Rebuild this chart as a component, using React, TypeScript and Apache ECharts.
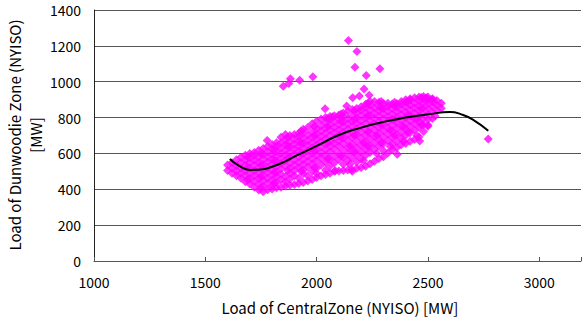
import React, { useEffect, useRef } from "react";
import * as echarts from "echarts";

// X-axis tick labels and Y-axis tick labels
const xTicks = [1000, 1500, 2000, 2500, 3000];
const yTicks = [0, 200, 400, 600, 800, 1000, 1200, 1400];

// Main cloud of observations: [Central Zone load, list of Dunwoodie loads]
const cloudColumns: [number, number[]][] = [
  [1600, [505, 535]],
  [1620, [490, 518, 548]],
  [1640, [475, 503, 532, 565]],
  [1660, [462, 490, 518, 548, 578]],
  [1680, [442, 476, 505, 534, 562, 590]],
  [1700, [430, 460, 490, 518, 548, 576, 600]],
  [1720, [412, 445, 476, 505, 535, 562, 590, 605]],
  [1740, [396, 428, 460, 492, 520, 550, 578, 618]],
  [1760, [386, 415, 447, 478, 508, 538, 566, 596, 628]],
  [1780, [398, 432, 462, 494, 522, 552, 582, 610, 640]],
  [1800, [402, 420, 450, 480, 510, 540, 568, 596, 625, 650]],
  [1820, [408, 438, 470, 498, 528, 556, 585, 612, 640, 660]],
  [1840, [412, 455, 485, 515, 545, 572, 600, 630, 660, 690]],
  [1860, [418, 440, 472, 530, 560, 590, 618, 648, 676, 705]],
  [1880, [422, 458, 490, 518, 546, 578, 606, 636, 664, 700]],
  [1900, [426, 475, 505, 535, 565, 595, 625, 652, 680, 705]],
  [1920, [432, 462, 520, 550, 582, 612, 640, 668, 695, 712]],
  [1940, [438, 488, 508, 538, 568, 600, 628, 656, 686, 718, 735]],
  [1960, [446, 475, 525, 555, 585, 615, 645, 672, 702, 745]],
  [1980, [455, 500, 540, 572, 602, 632, 660, 690, 720, 765]],
  [2000, [466, 488, 518, 558, 590, 620, 648, 678, 708, 738, 780]],
  [2020, [476, 535, 575, 605, 638, 665, 695, 725, 755, 792]],
  [2040, [482, 508, 552, 590, 622, 652, 682, 712, 742, 772, 800]],
  [2060, [490, 530, 568, 610, 640, 668, 700, 730, 760, 790, 806]],
  [2080, [500, 548, 585, 625, 655, 685, 715, 745, 775, 810]],
  [2100, [502, 565, 600, 640, 670, 702, 732, 762, 792, 815]],
  [2120, [505, 540, 580, 618, 655, 688, 718, 748, 778, 808, 825]],
  [2140, [508, 560, 598, 635, 672, 705, 735, 765, 795, 835]],
  [2160, [500, 575, 612, 650, 690, 720, 750, 780, 810, 845]],
  [2180, [518, 552, 592, 630, 668, 705, 738, 768, 798, 828, 850]],
  [2200, [522, 570, 608, 645, 685, 720, 752, 782, 812, 842, 860]],
  [2220, [528, 590, 625, 662, 700, 735, 768, 798, 828, 858, 875]],
  [2240, [542, 605, 642, 680, 715, 750, 782, 812, 842, 870, 890]],
  [2260, [556, 622, 660, 695, 730, 765, 795, 825, 855, 890]],
  [2280, [572, 640, 678, 712, 745, 778, 808, 838, 865, 885]],
  [2300, [582, 615, 655, 692, 728, 760, 792, 822, 850, 878]],
  [2320, [602, 672, 708, 742, 775, 805, 835, 862, 880]],
  [2340, [620, 652, 690, 725, 758, 790, 820, 850, 876]],
  [2360, [632, 668, 705, 740, 772, 802, 832, 860, 878]],
  [2380, [648, 685, 720, 755, 788, 818, 848, 875, 890]],
  [2400, [656, 700, 735, 770, 800, 830, 860, 885, 900]],
  [2420, [668, 715, 750, 782, 812, 842, 870, 898, 905]],
  [2440, [678, 730, 765, 796, 826, 855, 882, 910]],
  [2460, [692, 745, 778, 808, 838, 866, 892, 915]],
  [2480, [722, 760, 792, 822, 852, 880, 905, 918]],
  [2500, [752, 790, 820, 850, 878, 900, 915]],
  [2520, [795, 830, 862, 890, 905]],
  [2540, [842, 870, 895]],
  [2560, [852, 880]],
];

// Extra observations between the columns to densify the cloud
const cloudColumnsOffset: [number, number[]][] = [
  [1690, [455, 520, 580]],
  [1750, [410, 470, 535, 600]],
  [1810, [435, 495, 560, 620]],
  [1870, [505, 575, 640, 690]],
  [1930, [500, 600, 660, 725]],
  [1990, [520, 615, 700, 750]],
  [2050, [570, 660, 750, 795]],
  [2110, [585, 690, 780, 820]],
  [2150, [540, 640]],
  [2170, [610, 700, 790, 840]],
  [2210, [560, 660]],
  [2230, [640, 720, 810, 880]],
  [2270, [600, 700]],
  [2290, [660, 760, 850, 890]],
  [2330, [640, 730]],
  [2350, [700, 790, 865, 885]],
  [2390, [668, 750]],
  [2410, [720, 815, 890]],
  [2450, [700, 790]],
  [2470, [760, 850, 912]],
];

// Isolated observations outside the main cloud
const outlierPoints: [number, number][] = [
  [2143, 1230], [2181, 1169], [2172, 1080], [2284, 1073], [2223, 1034],
  [2213, 960], [1983, 1027], [1924, 1008], [1882, 1016], [1875, 990],
  [1850, 975], [2162, 910], [2192, 920], [2236, 924], [2135, 864],
  [2038, 849], [2071, 805], [1778, 672], [2771, 680], [2500, 759],
  [2463, 670], [2362, 595], [2532, 809], [2492, 910], [2522, 901],
  [2158, 510], [2084, 504],
];

// Trend curve
const trendX = [1610, 1650, 1700, 1750, 1800, 1850, 1900, 1950, 2000, 2100, 2200, 2300, 2400, 2500, 2600, 2650, 2700, 2771];
const trendY = [569, 532, 508, 510, 526, 550, 582, 611, 642, 703, 744, 776, 800, 818, 831, 818, 790, 726];

const FONT = '"Noto Sans CJK JP", "Noto Sans", sans-serif';

export default function App() {
  const ref = useRef<HTMLDivElement>(null);
  useEffect(() => {
    if (!ref.current) return;
    const chart = echarts.init(ref.current, null, { renderer: "svg" });
    const scatterData: [number, number][] = [];
    cloudColumns.forEach(([x, ys]) => ys.forEach((y) => scatterData.push([x, y])));
    cloudColumnsOffset.forEach(([x, ys]) => ys.forEach((y) => scatterData.push([x, y])));
    outlierPoints.forEach((p) => scatterData.push(p));
    const trendData = trendX.map((x, i) => [x, trendY[i]]);
    const xMax = 3000 + (42 / 448) * 2000;
    chart.setOption({
      animation: false,
      grid: { left: 94, top: 10, right: 0, bottom: 64, containLabel: false },
      xAxis: {
        type: "value",
        min: xTicks[0],
        max: xMax,
        interval: 500,
        axisLine: { show: true, lineStyle: { color: "#555", width: 1 } },
        axisTick: { show: true, inside: true, length: 4, lineStyle: { color: "#555" } },
        splitLine: { show: false },
        axisLabel: {
          margin: 14,
          fontSize: 14,
          fontFamily: FONT,
          color: "#000",
          formatter: (v: number) => (xTicks.includes(v) ? String(v) : ""),
        },
      },
      yAxis: {
        type: "value",
        min: yTicks[0],
        max: yTicks[yTicks.length - 1],
        interval: 200,
        axisLine: { show: true, lineStyle: { color: "#222", width: 1 } },
        axisTick: { show: false },
        splitLine: { show: true, lineStyle: { color: "#555", width: 1 } },
        axisLabel: {
          margin: 13,
          fontSize: 14,
          lineHeight: 14,
          fontFamily: FONT,
          color: "#000",
          formatter: (v: number) => String(v),
        },
      },
      series: [
        {
          type: "scatter",
          data: scatterData,
          symbol: "diamond",
          symbolSize: 9,
          itemStyle: { color: "#ff00ff" },
          z: 2,
        },
        {
          type: "line",
          data: trendData,
          smooth: true,
          showSymbol: false,
          lineStyle: { color: "#000", width: 2 },
          z: 3,
        },
      ],
      graphic: [
        {
          type: "text",
          x: 340,
          y: 307,
          style: {
            text: "Load of CentralZone (NYISO) [MW]",
            font: `15px ${FONT}`,
            fill: "#000",
            align: "center",
            verticalAlign: "middle",
          },
        },
        {
          type: "text",
          x: 25,
          y: 135,
          rotation: Math.PI / 2,
          style: {
            text: "Load of Dunwoodie Zone (NYISO)\n[MW]",
            font: `15px ${FONT}`,
            lineHeight: 21,
            fill: "#000",
            align: "center",
            verticalAlign: "middle",
          },
        },
      ],
    });
    return () => chart.dispose();
  }, []);
  return <div ref={ref} style={{ width: 584, height: 325, position: "absolute", left: 0, top: 0 }} />;
}
